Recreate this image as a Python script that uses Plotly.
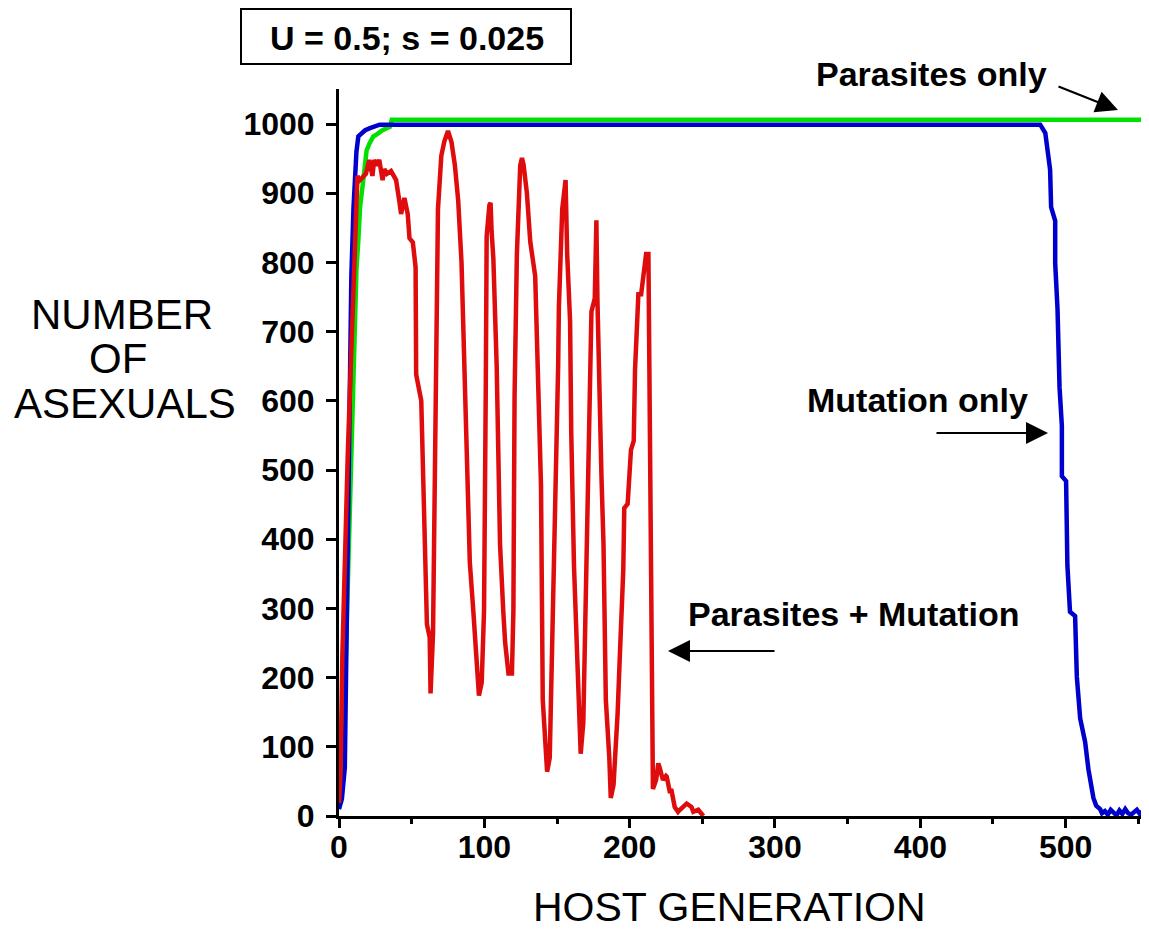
import plotly.graph_objects as go

# ---- data ----
red_x = [0, 1, 2.3, 4, 6, 8.1, 9.5, 10.4, 11.5, 12.7, 14, 16, 18.5, 20.8, 22, 23, 24.2, 26, 27.7, 30,
         31.2, 33, 35.8, 37.5, 39.3, 41.6, 42.7, 45, 47.3, 48.5, 50.8, 52.7, 53.1, 56.6, 57.3, 59, 60.5,
         62.4, 63, 64.7, 66.5, 68.1, 70.4, 72.5, 75, 77.4, 79.7, 82, 84.3, 86.6, 88.2, 90, 92.4, 94.7,
         96.3, 98.2, 99.8, 101, 101.6, 103.5, 104.3, 105, 106.2, 108.5, 110.8, 113, 114.3, 116.6, 119,
         120, 120.8, 122.4, 124.7, 125.9, 127, 129.3, 131.6, 135, 137.4, 139, 140.2, 142, 143.2, 145,
         146.7, 149.7, 150.8, 151.3, 153.6, 155.9, 157, 159, 159.8, 161.7, 164, 165.1, 166.3, 168.1,
         169.7, 171.4, 172.7, 173.7, 176, 177.1, 177.8, 179, 180.6, 182, 182.9, 183.6, 186, 187, 188.9,
         190.5, 191.7, 193.5, 195.6, 196.3, 198.6, 200.9, 202.8, 203.7, 206, 207.9, 209, 210.2, 211.3,
         212.9, 213.6, 214.8, 216, 218.2, 219.7, 220.5, 222, 222.9, 225, 225.5, 227.8, 228.6, 231,
         233.3, 234.6, 236.7, 239.2, 242.5, 243.8, 247.2, 250.7]
red_y = [19, 60, 230, 380, 520, 650, 740, 812, 880, 925, 918, 922, 928, 948, 930, 925, 948, 940, 948, 919,
         935, 928, 932, 925, 919, 887, 870, 893, 870, 835, 829, 793, 638, 600, 542, 413, 277,
         258, 177, 264, 587, 877, 954, 975, 990, 974, 941, 890, 800, 619, 490, 367, 297, 219,
         174, 193, 297, 619, 838, 883, 886, 845, 806, 651, 393, 297, 251, 206, 206,
         297, 606, 812, 940, 951, 941, 900, 830, 780, 619, 477, 168, 90, 64, 84,
         232, 509, 651, 735, 877, 919, 812, 716, 555, 361, 232, 168, 90, 135,
         329, 490, 696, 729, 748, 861, 748, 619, 490, 393, 297, 168, 84, 26, 45,
         103, 148, 245, 355, 445, 451, 529, 542, 645, 754, 754, 774, 806, 812,
         812, 619, 297, 39, 52, 76, 71, 61, 52, 58, 57, 33, 39, 13,
         6, 9, 13, 18, 13, 6, 9, 0]

blue_x = [0, 2, 4, 5.5, 7, 8.5, 10, 11, 12, 13.3, 15.6, 18, 21.3, 24, 28, 482.5, 486, 489.3, 490, 492.8,
          492.8, 494.4, 495.8, 497.4, 497.4, 500.3, 501.2, 503, 506.5, 507.7, 510, 513.4, 515.7, 519.1,
          521, 523.7, 525, 527, 529, 531, 533, 535, 537, 539, 541, 543, 545, 547, 549, 551, 553, 555]
blue_y = [10, 25, 70, 300, 580, 780, 880, 924, 960, 982, 987, 991, 994, 996, 999, 999, 987, 934, 880, 860,
          799, 733, 619, 564, 491, 484, 362, 295, 289, 201, 141, 107, 67, 26,
          15, 10, 4, 7, 2, 9, 4, 1, 8, 3, 10, 4, 2, 6, 9, 3, 7, 1]

green_x = [0, 1.4, 3, 5, 7, 9, 10.4, 12, 13.3, 14.5, 16.7, 19, 21, 23.6, 26, 28.2, 30, 32.8, 35, 36.3, 553]
green_y = [15, 20, 100, 250, 420, 580, 683, 790, 832, 880, 919, 962, 972, 982, 985, 989, 991, 994, 996, 1006, 1006]

x_ticks = [0, 100, 200, 300, 400, 500]
y_ticks = [0, 100, 200, 300, 400, 500, 600, 700, 800, 900, 1000]

FONT = "Liberation Sans, Arial, sans-serif"

fig = go.Figure()
fig.add_trace(go.Scatter(x=green_x, y=green_y, mode="lines",
                         line=dict(color="rgb(0,225,0)", width=4.5), showlegend=False))
fig.add_trace(go.Scatter(x=blue_x, y=blue_y, mode="lines",
                         line=dict(color="rgb(0,0,205)", width=4.5), showlegend=False))
fig.add_trace(go.Scatter(x=red_x, y=red_y, mode="lines",
                         line=dict(color="rgb(222,12,12)", width=4.5), showlegend=False))

# target geometry in page pixels (page body has an 8px margin)
OFF = 8
L, R, T, B = 339, 1148, 89, 816
W, H = 1149 - OFF, 933 - OFF

def px(xp):
    return (xp - L) / (R - L)

def py(yp):
    return (B - yp) / (B - T)

fig.update_layout(
    width=W, height=H,
    margin=dict(l=L - OFF, r=(W + OFF) - R, t=T - OFF, b=(H + OFF) - B, pad=0),
    paper_bgcolor="white", plot_bgcolor="white",
    font=dict(family=FONT, color="black"),
    xaxis=dict(range=[0, (R - L) / 1.4533], tickvals=x_ticks, ticktext=[str(v) for v in x_ticks],
               showgrid=False, zeroline=False, showline=True, linecolor="black", linewidth=3,
               ticks="outside", ticklen=9, tickwidth=3, tickcolor="black", ticklabelstandoff=-8,
               tickfont=dict(size=32, family=FONT, weight="bold", color="black"),
               minor=dict(dtick=50, ticks="outside", ticklen=5, tickwidth=3, tickcolor="black", showgrid=False)),
    yaxis=dict(range=[0, (B - T) / 0.692], tickvals=y_ticks, ticktext=[str(v) for v in y_ticks],
               showgrid=False, zeroline=False, showline=True, linecolor="black", linewidth=3,
               ticks="outside", ticklen=10, tickwidth=3, tickcolor="black", ticklabelstandoff=5,
               tickfont=dict(size=32, family=FONT, weight="bold", color="black")),
)

# parameter box
fig.add_shape(type="rect", xref="paper", yref="paper",
              x0=px(241), x1=px(571), y0=py(64), y1=py(9),
              line=dict(color="black", width=2), fillcolor="white")

def text(t, xc, yc, size, bold=True):
    fig.add_annotation(text=t, xref="paper", yref="paper", x=px(xc), y=py(yc),
                       xanchor="center", yanchor="middle", showarrow=False,
                       font=dict(size=size, family=FONT, color="black",
                                 weight="bold" if bold else "normal"))

text("U = 0.5; s = 0.025", 407, 38, 34)
text("Parasites only", 931, 74, 34)
text("Mutation only", 917, 400, 34)
text("Parasites + Mutation", 854, 614, 34)

# axis titles
text("NUMBER", 122, 314, 42, bold=False)
text("OF", 118, 358, 42, bold=False)
text("ASEXUALS", 125, 403, 42, bold=False)
fig.add_annotation(text="HOST GENERATION", xref="paper", yref="paper", x=px(729), y=py(931),
                   xanchor="center", yanchor="bottom", showarrow=False, borderpad=0,
                   font=dict(size=41, family=FONT, color="black"))

def arrow(x_tail, y_tail, x_head, y_head):
    fig.add_annotation(text="", xref="paper", yref="paper", x=px(x_head), y=py(y_head),
                       axref="pixel", ayref="pixel", ax=x_tail - x_head, ay=y_tail - y_head,
                       showarrow=True, arrowhead=2, arrowsize=2, arrowwidth=2.2, arrowcolor="black")

arrow(1057, 86, 1118, 110)
arrow(935, 433, 1048, 433)
arrow(776, 651, 668, 651)

fig.write_html("out.html")
